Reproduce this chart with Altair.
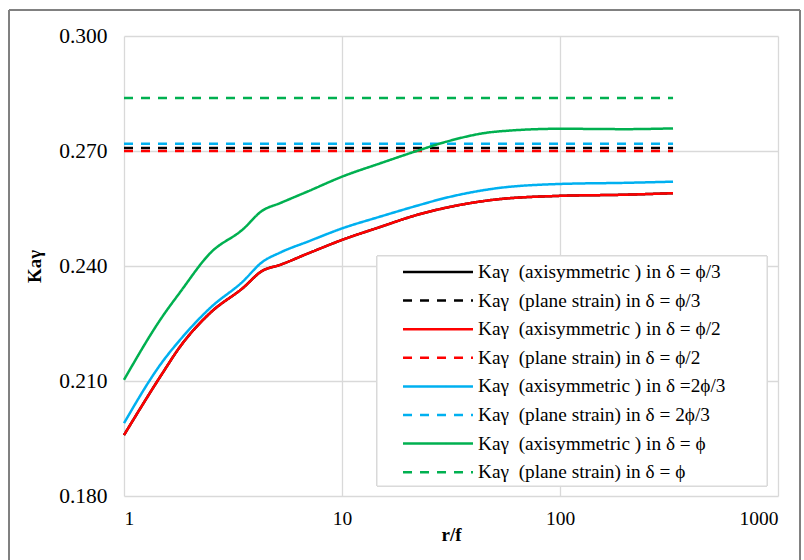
import altair as alt
import pandas as pd

# ---- data ----
x_axi = [1, 1.5, 1.8, 2.5, 3.5, 4.3, 5.2, 7, 10, 15, 22, 30, 50, 100, 200, 330]
y_axi_phi3 = [0.1959, 0.2120, 0.2188, 0.2279, 0.2342, 0.2387, 0.2403, 0.2433, 0.2468,
              0.2502, 0.2533, 0.2552, 0.2573, 0.2583, 0.2586, 0.2590]
y_axi_phi2 = [0.1959, 0.2120, 0.2188, 0.2279, 0.2342, 0.2387, 0.2403, 0.2433, 0.2468,
              0.2502, 0.2533, 0.2552, 0.2573, 0.2583, 0.2586, 0.2590]
y_axi_2phi3 = [0.1990, 0.2150, 0.2206, 0.2292, 0.2359, 0.2410, 0.2435, 0.2464, 0.2498,
               0.2529, 0.2557, 0.2578, 0.2602, 0.2614, 0.2617, 0.2620]
y_axi_phi = [0.2103, 0.2268, 0.2330, 0.2435, 0.2495, 0.2544, 0.2564, 0.2595, 0.2633,
             0.2668, 0.2700, 0.2724, 0.2750, 0.2758, 0.2757, 0.2759]

x_ps = [1, 330]
ps_phi3 = 0.2708
ps_phi2 = 0.2700
ps_2phi3 = 0.2719
ps_phi = 0.2838

series_names = [
    "Kaγ\u00a0 (axisymmetric ) in δ = ϕ/3",
    "Kaγ\u00a0 (plane strain) in δ = ϕ/3",
    "Kaγ\u00a0 (axisymmetric ) in δ = ϕ/2",
    "Kaγ\u00a0 (plane strain) in δ = ϕ/2",
    "Kaγ\u00a0 (axisymmetric ) in δ =2ϕ/3",
    "Kaγ\u00a0 (plane strain) in δ = 2ϕ/3",
    "Kaγ\u00a0 (axisymmetric ) in δ = ϕ",
    "Kaγ\u00a0 (plane strain) in δ = ϕ",
]
colors = ["#000000", "#000000", "#FF0000", "#FF0000", "#00B0F0", "#00B0F0", "#00B050", "#00B050"]
dashes = [[1, 0], [9, 8], [1, 0], [9, 8], [1, 0], [9, 8], [1, 0], [9, 8]]

rows = []
axi = [y_axi_phi3, y_axi_phi2, y_axi_2phi3, y_axi_phi]
ps = [ps_phi3, ps_phi2, ps_2phi3, ps_phi]
for i in range(4):
    for xv, yv in zip(x_axi, axi[i]):
        rows.append({"x": xv, "y": yv, "series": series_names[2 * i], "order": 2 * i})
    for xv in x_ps:
        rows.append({"x": xv, "y": ps[i], "series": series_names[2 * i + 1], "order": 2 * i + 1})
df = pd.DataFrame(rows)

FONT = "Liberation Serif"

def make_legend():
    return alt.Legend(title=None, orient="none", legendX=304, legendY=226,
                      symbolType="M-4,0H4", symbolSize=306,
                      symbolStrokeWidth=2.5, labelOffset=30,
                      labelFont=FONT, labelFontSize=19.3, labelLimit=400,
                      rowPadding=7.6, padding=0)

lines = alt.Chart(df).mark_line(strokeWidth=2.5, interpolate="monotone").encode(
    x=alt.X("x:Q", scale=alt.Scale(type="log", domain=[1, 1000]),
            axis=alt.Axis(values=[1, 10, 100, 1000], format="d", title="r/f",
                          grid=True, ticks=False, domain=False, labelPadding=13,
                          labelFontSize=19.5, titlePadding=-2)),
    y=alt.Y("y:Q", scale=alt.Scale(domain=[0.18, 0.30], nice=False, zero=False),
            axis=alt.Axis(values=[0.18, 0.21, 0.24, 0.27, 0.30], format=".3f", title="Kaγ",
                          grid=True, ticks=False, domain=False, labelPadding=17,
                          labelFontSize=21.5, titlePadding=14)),
    color=alt.Color("series:N", scale=alt.Scale(domain=series_names, range=colors),
                    legend=make_legend()),
    strokeDash=alt.StrokeDash("series:N", scale=alt.Scale(domain=series_names, range=dashes),
                              legend=make_legend()),
    order="order:Q",
    detail="series:N",
)

legend_box = alt.Chart(df).mark_rect(fill="white", stroke="#d9d9d9", strokeWidth=1).encode(
    x=alt.value(253), x2=alt.value(643), y=alt.value(220), y2=alt.value(450)
)

outer = alt.Chart(df).mark_rect(fill=None, stroke="#808080", strokeWidth=1).encode(
    x=alt.value(-115), x2=alt.value(676), y=alt.value(-26), y2=alt.value(600)
)

chart = alt.layer(outer, legend_box, lines).properties(
    width=654, height=460,
    autosize=alt.AutoSizeParams(type="none"),
    padding={"left": 124, "top": 36, "right": 26, "bottom": 64},
    background="white",
).configure_view(stroke=None).configure_axis(
    gridColor="#d9d9d9", gridWidth=1.3,
    labelFont=FONT, labelColor="#000000",
    titleFont=FONT, titleFontSize=19, titleFontWeight="bold", titleColor="#000000",
)

chart.save("out.html", embed_options={"renderer": "svg", "actions": False})
